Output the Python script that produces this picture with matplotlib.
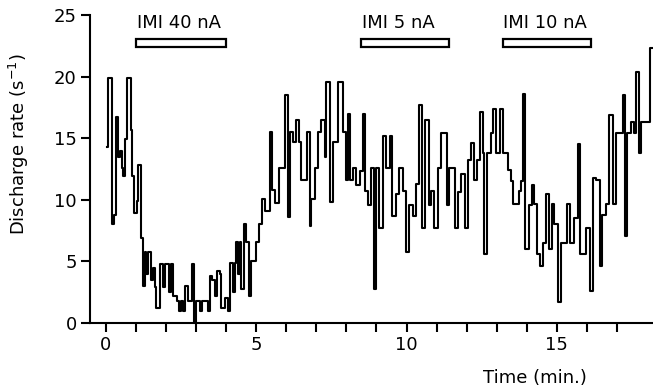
import matplotlib
matplotlib.use('Agg')
import matplotlib.pyplot as plt
from matplotlib.patches import Rectangle

plt.rcParams['font.family'] = ['Liberation Sans Narrow', 'DejaVu Sans']

# step start times (min) and discharge rate (s^-1)
t_min = [0.05, 0.08, 0.21, 0.28, 0.35, 0.41, 0.46, 0.52, 0.58, 0.63, 0.71,
         0.83, 0.88, 0.94, 1.02, 1.07, 1.18, 1.24, 1.30, 1.35, 1.41,
         1.49, 1.57, 1.63, 1.68, 1.79, 1.90, 1.98, 2.09, 2.18, 2.24,
         2.35, 2.43, 2.49, 2.57, 2.62, 2.74, 2.85, 2.93, 3.01, 3.12,
         3.20, 3.40, 3.46, 3.53, 3.62, 3.71, 3.79, 3.84, 3.95, 4.05,
         4.12, 4.23, 4.28, 4.34, 4.40, 4.45, 4.50, 4.58, 4.67, 4.76,
         4.84, 4.98, 5.09, 5.20, 5.28, 5.45, 5.54, 5.62, 5.76, 5.95,
         6.06, 6.11, 6.22, 6.33, 6.42, 6.50, 6.69, 6.78, 6.83, 6.94,
         7.05, 7.17, 7.28, 7.33, 7.46, 7.55, 7.72, 7.89, 7.98, 8.05,
         8.11, 8.22, 8.33, 8.44, 8.55, 8.63, 8.71, 8.82, 8.93, 8.99,
         9.10, 9.21, 9.32, 9.44, 9.52, 9.66, 9.75, 9.88, 9.97, 10.08,
         10.21, 10.32, 10.43, 10.52, 10.63, 10.74, 10.82, 10.93, 11.04, 11.15,
         11.34, 11.43, 11.60, 11.71, 11.82, 11.93, 12.04, 12.15, 12.23, 12.34,
         12.43, 12.54, 12.59, 12.67, 12.70, 12.81, 12.89, 12.98, 13.11, 13.22,
         13.36, 13.47, 13.53, 13.73, 13.81, 13.88, 13.95, 14.08, 14.17, 14.25,
         14.33, 14.44, 14.53, 14.64, 14.75, 14.84, 14.92, 15.03, 15.14, 15.33,
         15.44, 15.58, 15.69, 15.77, 15.97, 16.10, 16.19, 16.30, 16.43, 16.52,
         16.63, 16.75, 16.86, 16.97, 17.19, 17.28, 17.32, 17.46, 17.57, 17.65,
         17.72, 17.80, 18.10, 18.25]
rate = [14.3, 19.9, 8.0, 8.8, 16.7, 13.5, 14.0, 12.6, 11.9, 14.9, 19.9,
        15.7, 11.9, 8.9, 9.9, 12.8, 6.9, 3.0, 5.8, 4.0, 5.8,
        3.5, 4.5, 2.9, 1.2, 4.8, 2.9, 4.8, 2.5, 4.8, 2.2,
        1.8, 1.0, 1.8, 1.0, 3.0, 1.8, 4.8, 0.0, 1.8, 1.0,
        1.8, 1.0, 3.8, 3.5, 2.2, 4.2, 4.0, 1.2, 2.0, 1.0,
        4.9, 2.5, 4.9, 6.6, 4.0, 6.6, 2.8, 8.0, 6.6, 2.2,
        5.0, 6.6, 8.0, 10.1, 9.1, 15.5, 10.8, 9.75, 12.6, 18.5,
        8.6, 15.5, 14.7, 16.5, 14.7, 11.6, 15.5, 7.9, 10.1, 12.6,
        15.5, 16.5, 13.5, 19.6, 9.8, 14.7, 19.6, 15.5, 11.6, 17.0,
        11.6, 12.6, 11.2, 12.3, 17.0, 10.7, 9.6, 12.6, 2.8, 12.6,
        7.7, 15.2, 12.6, 15.2, 8.7, 10.5, 12.6, 10.7, 5.8, 9.6,
        8.7, 11.3, 17.7, 7.7, 16.5, 9.6, 10.7, 7.7, 12.6, 15.4,
        9.6, 12.6, 7.7, 10.6, 12.1, 7.7, 13.2, 14.6, 11.6, 13.2,
        17.1, 13.8, 5.6, 13.8, 13.8, 15.4, 17.4, 13.8, 17.4, 13.8,
        12.4, 11.5, 9.7, 10.7, 11.5, 18.6, 6.0, 9.6, 11.2, 9.7,
        5.6, 4.6, 6.5, 10.5, 6.0, 9.7, 8.0, 1.7, 6.5, 9.7,
        6.5, 8.5, 14.5, 5.6, 7.7, 2.6, 11.8, 11.6, 4.6, 8.8,
        9.7, 16.9, 9.7, 15.4, 18.5, 7.1, 15.4, 16.3, 15.4, 20.4,
        13.8, 16.3, 22.3, 22.3]

# drug applications: label, start, end (min)
imi_labels = ["IMI 40 nA", "IMI 5 nA", "IMI 10 nA"]
imi_start = [1.0, 8.5, 13.2]
imi_end = [4.0, 11.4, 16.15]

fig = plt.figure(figsize=(6.53, 3.9), dpi=100)
ax = fig.add_axes([0.1378, 0.1718, 0.8622, 0.7897])

ax.step(t_min, rate, where='post', color='black', lw=1.5)

for lab, a, b in zip(imi_labels, imi_start, imi_end):
    ax.add_patch(Rectangle((a, 22.4), b - a, 0.65, facecolor='white',
                           edgecolor='black', lw=1.6, clip_on=False))
    ax.text(a + 0.02, 23.65, lab, fontsize=13, ha='left', va='bottom')

ax.set_xlim(-0.53, 18.2)
ax.set_ylim(0, 25)
ax.set_xticks(range(0, 18))
ax.set_xticklabels(['0', '', '', '', '', '5', '', '', '', '', '10',
                    '', '', '', '', '15', '', ''])
ax.set_yticks([0, 5, 10, 15, 20, 25])

for s in ['top', 'right']:
    ax.spines[s].set_visible(False)
for s in ['left', 'bottom']:
    ax.spines[s].set_linewidth(1.5)
ax.tick_params(axis='both', direction='out', length=6.5, width=1.5,
               labelsize=13, pad=3)

ax.set_ylabel(r'Discharge rate (s$^{-1}$)', fontsize=13)
ax.yaxis.set_label_coords(-0.105, 0.58)
ax.set_xlabel('Time (min.)', fontsize=13)
ax.xaxis.set_label_coords(0.79, -0.15)

fig.savefig('out.png', dpi=100)
